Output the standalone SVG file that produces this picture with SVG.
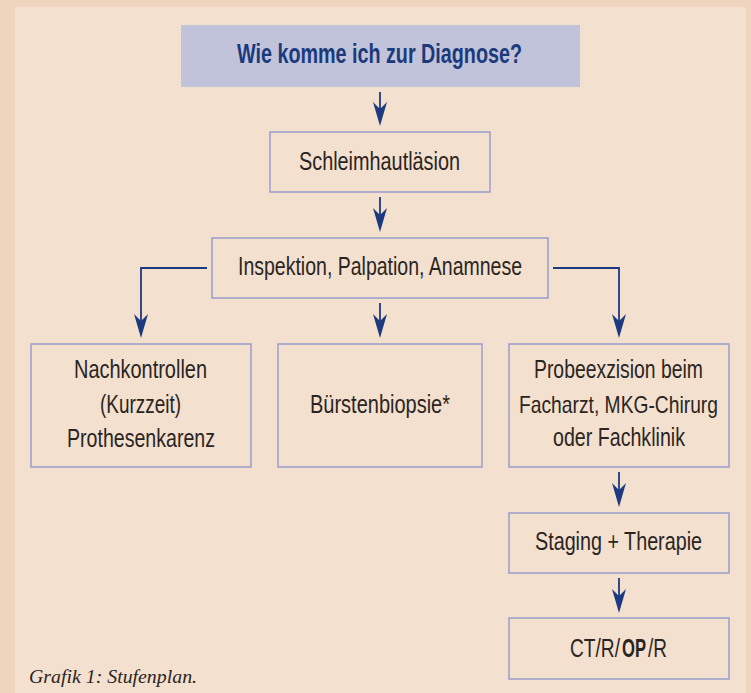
<svg xmlns="http://www.w3.org/2000/svg" width="751" height="693" viewBox="0 0 751 693">
<defs>
<style>
.box{fill:none;stroke:#9ea2cc;stroke-width:1.6}
.t{font-family:"Liberation Sans Narrow","Liberation Sans",Arial,sans-serif;font-size:25px;fill:#2a2522}
.b{font-weight:bold}
.h{font-family:"Liberation Sans Narrow","Liberation Sans",Arial,sans-serif;font-size:27px;font-weight:bold;fill:#1b3a7c}
.c{fill:none;stroke:#1d3a80;stroke-width:1.8;marker-end:url(#ah)}
.cap{font-family:"Liberation Serif","Times New Roman",serif;font-style:italic;font-size:19px;fill:#2a2522}
</style>
<marker id="ah" markerUnits="userSpaceOnUse" markerWidth="24" markerHeight="14" viewBox="0 0 24 14" refX="16" refY="7" orient="auto">
<path d="M0,0 L24,7 L0,14 L7,7 Z" fill="#1d3a80"/>
</marker>
</defs>
<rect x="0" y="0" width="751" height="693" fill="#efd5bd"/>
<rect x="15" y="7" width="731" height="700" rx="3" fill="#f4e0cf"/>

<g id="connectors">
<path class="c" d="M380,92 V118"/>
<path class="c" d="M380,197 V224"/>
<path class="c" d="M380,303 V330"/>
<path class="c" d="M207,268 H141 V330"/>
<path class="c" d="M553,268 H619 V330"/>
<path class="c" d="M619,472 V499"/>
<path class="c" d="M619,578 V605"/>
</g>

<g id="header">
<rect x="181" y="25" width="399" height="62" fill="#c0c3da"/>
<text class="h" x="237" y="63" textLength="285" lengthAdjust="spacingAndGlyphs">Wie komme ich zur Diagnose?</text>
</g>

<g id="schleimhaut">
<rect class="box" x="270" y="132" width="220" height="60"/>
<text class="t" x="299" y="170" textLength="161" lengthAdjust="spacingAndGlyphs">Schleimhautläsion</text>
</g>

<g id="inspektion">
<rect class="box" x="212" y="238" width="336" height="60"/>
<text class="t" x="238" y="275" textLength="284" lengthAdjust="spacingAndGlyphs">Inspektion, Palpation, Anamnese</text>
</g>

<g id="nachkontrollen">
<rect class="box" x="31" y="344" width="220" height="123"/>
<text class="t" x="74" y="378" textLength="133" lengthAdjust="spacingAndGlyphs">Nachkontrollen</text>
<text class="t" x="100" y="413" textLength="81" lengthAdjust="spacingAndGlyphs">(Kurzzeit)</text>
<text class="t" x="67" y="447" textLength="148" lengthAdjust="spacingAndGlyphs">Prothesenkarenz</text>
</g>

<g id="buerstenbiopsie">
<rect class="box" x="278" y="344" width="204" height="123"/>
<text class="t" x="310" y="413" textLength="140" lengthAdjust="spacingAndGlyphs">Bürstenbiopsie*</text>
</g>

<g id="probeexzision">
<rect class="box" x="509" y="344" width="220" height="123"/>
<text class="t" x="534" y="378" textLength="169" lengthAdjust="spacingAndGlyphs">Probeexzision beim</text>
<text class="t" x="519" y="413" textLength="199" lengthAdjust="spacingAndGlyphs" style="font-size:24px">Facharzt, MKG-Chirurg</text>
<text class="t" x="553" y="446" textLength="132" lengthAdjust="spacingAndGlyphs">oder Fachklinik</text>
</g>

<g id="staging">
<rect class="box" x="509" y="513" width="220" height="60"/>
<text class="t" x="535" y="550" textLength="167" lengthAdjust="spacingAndGlyphs">Staging + Therapie</text>
</g>

<g id="ctrop">
<rect class="box" x="509" y="618" width="220" height="61"/>
<text class="t" x="570" y="657" textLength="50" lengthAdjust="spacingAndGlyphs">CT/R/</text>
<text class="t b" x="622" y="657" textLength="24" lengthAdjust="spacingAndGlyphs">OP</text>
<text class="t" x="648" y="657" textLength="19" lengthAdjust="spacingAndGlyphs">/R</text>
</g>

<text class="cap" x="29" y="683" textLength="168" lengthAdjust="spacingAndGlyphs">Grafik 1: Stufenplan.</text>
</svg>
